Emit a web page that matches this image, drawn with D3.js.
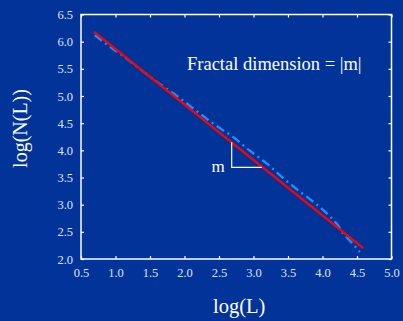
<!DOCTYPE html>
<html>
<head>
<meta charset="utf-8">
<script src="https://cdn.jsdelivr.net/npm/d3@7"></script>
<style>
  html, body { margin: 0; padding: 0; background: #023399; }
  svg { display: block; }
</style>
</head>
<body>
<svg id="chart" width="403" height="321"></svg>
<script>
// ---- data ----
const xTicks = [0.5, 1.0, 1.5, 2.0, 2.5, 3.0, 3.5, 4.0, 4.5, 5.0];
const yTicks = [2.0, 2.5, 3.0, 3.5, 4.0, 4.5, 5.0, 5.5, 6.0, 6.5];
// measured log(N(L)) vs log(L) (dash-dot curve)
const measuredX = [0.70, 0.97, 1.11, 1.36, 1.60, 1.89, 2.22, 2.44, 2.71, 2.95, 3.19, 3.43, 3.65, 3.89, 4.11, 4.23, 4.30, 4.41, 4.54];
const measuredY = [6.12, 5.86, 5.74, 5.49, 5.26, 5.00, 4.68, 4.47, 4.24, 3.99, 3.76, 3.49, 3.26, 3.03, 2.78, 2.61, 2.47, 2.32, 2.13];
// fitted straight line
const fitX = [0.69, 4.59];
const fitY = [6.18, 2.20];
// slope triangle annotation
const triX = [2.684, 2.684, 3.12];
const triY = [4.15, 3.686, 3.686];
const annotation = "Fractal dimension = |m|";
const slopeLabel = "m";
const xTitle = "log(L)";
const yTitle = "log(N(L))";

// ---- layout ----
const svg = d3.select("#chart");
const x = d3.scaleLinear().domain([0.5, 5.0]).range([81, 391.5]);
const y = d3.scaleLinear().domain([2.0, 6.5]).range([259, 14.5]);
const fmt = d3.format(".1f");
const labelColor = "#dfe4f2";
const serif = "'Liberation Serif', 'Times New Roman', serif";

function styleAxis(g, showText) {
  g.select(".domain").remove();
  g.selectAll(".tick line").attr("stroke", "#ffffff").attr("stroke-width", 1.2);
  g.selectAll(".tick text")
    .attr("fill", labelColor)
    .style("font-family", serif)
    .style("font-size", "12.5px")
    .style("display", showText ? null : "none");
}

// bottom
svg.append("g").attr("transform", `translate(0,${y(2.0)})`)
  .call(d3.axisBottom(x).tickValues(xTicks).tickFormat(fmt).tickSizeInner(-3).tickSizeOuter(0).tickPadding(9))
  .call(g => styleAxis(g, true));
// left
svg.append("g").attr("transform", `translate(${x(0.5)},0)`)
  .call(d3.axisLeft(y).tickValues(yTicks).tickFormat(fmt).tickSizeInner(-3).tickSizeOuter(0).tickPadding(8))
  .call(g => styleAxis(g, true));
// top
svg.append("g").attr("transform", `translate(0,${y(6.5)})`)
  .call(d3.axisTop(x).tickValues(xTicks).tickSizeInner(-3).tickSizeOuter(0))
  .call(g => styleAxis(g, false));
// right
svg.append("g").attr("transform", `translate(${x(5.0)},0)`)
  .call(d3.axisRight(y).tickValues(yTicks).tickSizeInner(-3).tickSizeOuter(0))
  .call(g => styleAxis(g, false));

// frame
svg.append("rect")
  .attr("x", x(0.5)).attr("y", y(6.5))
  .attr("width", x(5.0) - x(0.5)).attr("height", y(2.0) - y(6.5))
  .attr("fill", "none").attr("stroke", "#ffffff").attr("stroke-width", 1.5);

// measured curve (dash-dot)
const line = d3.line().x(d => x(d[0])).y(d => y(d[1])).curve(d3.curveMonotoneX);
svg.append("path")
  .datum(measuredX.map((v, i) => [v, measuredY[i]]))
  .attr("d", line)
  .attr("fill", "none")
  .attr("stroke", "#1b8fff")
  .attr("stroke-width", 2.4)
  .attr("stroke-dasharray", "9,4,2,4");

// fitted line
svg.append("path")
  .datum(fitX.map((v, i) => [v, fitY[i]]))
  .attr("d", d3.line().x(d => x(d[0])).y(d => y(d[1])))
  .attr("fill", "none")
  .attr("stroke", "#ff0000")
  .attr("stroke-width", 2.4);

// slope triangle
svg.append("path")
  .datum(triX.map((v, i) => [v, triY[i]]))
  .attr("d", d3.line().x(d => x(d[0])).y(d => y(d[1])))
  .attr("fill", "none")
  .attr("stroke", "#ffffff")
  .attr("stroke-width", 1.2);

svg.append("text")
  .attr("x", x(2.684) - 7).attr("y", y(3.686) + 5)
  .attr("text-anchor", "end")
  .attr("fill", "#ffffff")
  .style("font-family", serif).style("font-size", "17px")
  .text(slopeLabel);

svg.append("text")
  .attr("x", 187).attr("y", 69.5)
  .attr("fill", "#ffffff")
  .style("font-family", serif).style("font-size", "18.5px")
  .text(annotation);

// axis titles
svg.append("text")
  .attr("x", (x(0.5) + x(5.0)) / 2 + 3).attr("y", 313)
  .attr("text-anchor", "middle")
  .attr("fill", "#ffffff")
  .style("font-family", serif).style("font-size", "20.5px")
  .text(xTitle);

svg.append("text")
  .attr("transform", "translate(26.5,128.5) rotate(-90)")
  .attr("text-anchor", "middle")
  .attr("fill", "#ffffff")
  .style("font-family", serif).style("font-size", "20px")
  .text(yTitle);
</script>
</body>
</html>
